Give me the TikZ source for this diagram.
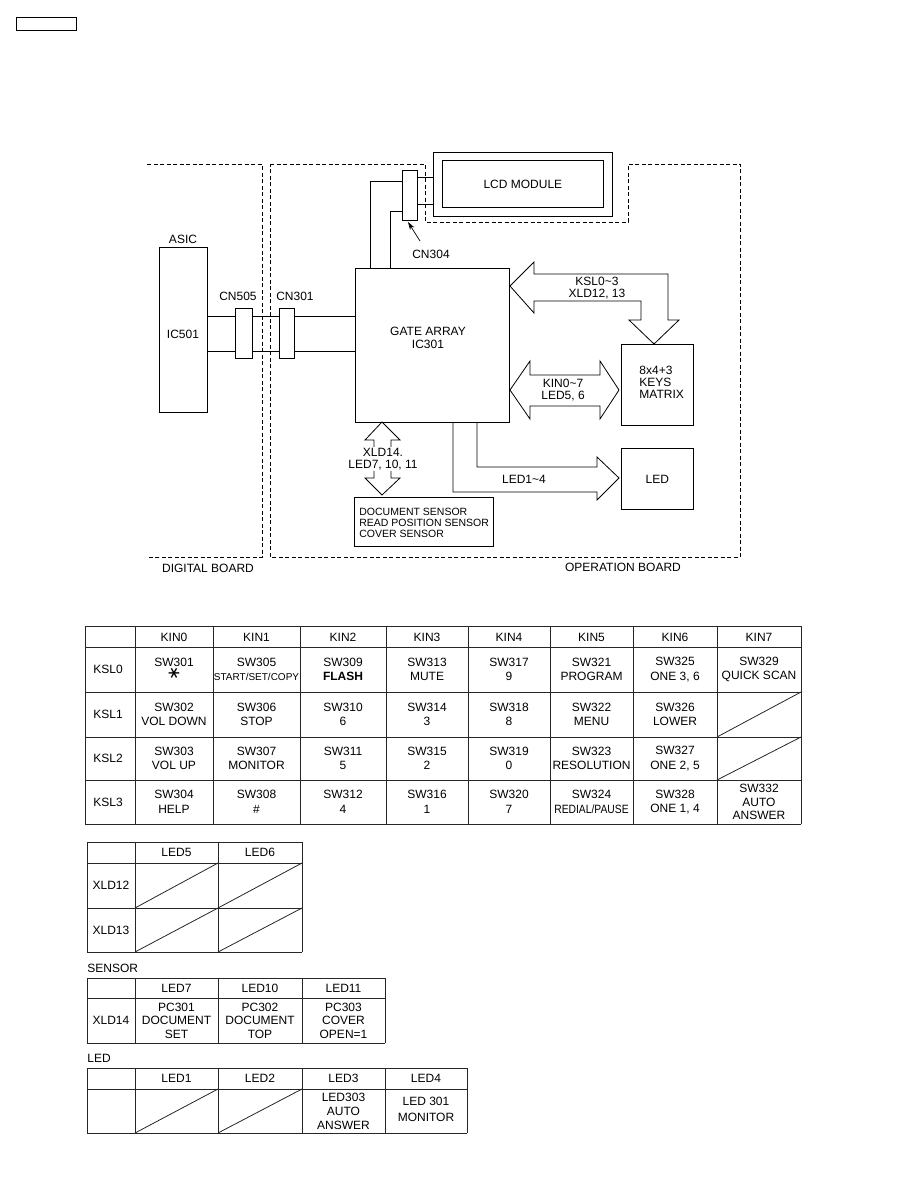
\documentclass[tikz,border=0pt]{standalone}
\usepackage{fontspec}
\setmainfont{Liberation Sans}
\newfontfamily\dejavu{DejaVu Sans}
\usetikzlibrary{arrows.meta}
\newcommand{\tcell}[4]{\node[cell] (#1) at (#2,#3) {#4};}
\begin{document}
\begin{tikzpicture}[x=1pt,y=-1pt, line width=0.8pt,
 box/.style={draw, inner sep=0pt, anchor=north west},
 lbl/.style={inner sep=0pt, font=\fontsize{12}{14}\selectfont, align=center},
 sml/.style={inner sep=0pt, font=\fontsize{10.5}{13}\selectfont, align=left, anchor=west},
 bd/.style={dash pattern=on 4pt off 2.5pt, line width=0.7pt},
 grid/.style={line width=0.8pt, black!85},
 cell/.style={inner sep=0pt, font=\fontsize{12}{14.5}\selectfont, align=center},
 bigarrow/.style={line width=0.8pt, line join=miter}
]
\useasboundingbox (0,0) rectangle (918,1188);

% top-left tag
\node[box, minimum width=60pt, minimum height=13pt] (tag) at (16,17) {};

% board outlines
\draw[bd] (147,164) -- (262,164) -- (262,557) -- (147,557);
\draw[bd] (270,164) -- (425,164) -- (425,222) -- (628,222) -- (628,164) -- (740,164) -- (740,557) -- (270,557) -- cycle;
\node[lbl] (digital) at (208,568) {DIGITAL BOARD};
\node[lbl] (operation) at (623,567) {OPERATION BOARD};

% LCD module
\node[box, fill=white, minimum width=179pt, minimum height=64pt] (lcd) at (433,152) {};
\node[box, minimum width=161pt, minimum height=47pt] (lcdin) at (442,160) {};
\node[lbl] (lcdtxt) at (lcdin.center) {LCD MODULE};

% CN304
\node[box, fill=white, minimum width=15pt, minimum height=50pt] (cn304) at (402,170) {};
\draw (cn304.east |- 0,177) -- (lcd.west |- 0,177);
\draw (cn304.east |- 0,204) -- (lcd.west |- 0,204);

% ASIC
\node[box, minimum width=48pt, minimum height=165pt] (asic) at (159,247) {};
\node[lbl] (asiclbl) at (183,239) {ASIC};
\node[lbl] (ic501) at (183,334) {IC501};

% connectors
\node[box, minimum width=17pt, minimum height=50pt] (cn505) at (235,308) {};
\node[box, minimum width=15pt, minimum height=50pt] (cn301) at (279,308) {};
\node[lbl] (cn505lbl) at (238,296) {CN505};
\node[lbl] (cn301lbl) at (295,296) {CN301};

% gate array
\node[box, minimum width=154pt, minimum height=154pt] (ga) at (355,268) {};
\node[lbl] (gatxt) at (428,338) {GATE ARRAY\\[-1.5pt]IC301};

% lines ASIC <-> gate array
\foreach \yy in {316,351} {
  \draw (asic.east |- 0,\yy) -- (cn505.west |- 0,\yy);
  \draw (cn505.east |- 0,\yy) -- (cn301.west |- 0,\yy);
  \draw (cn301.east |- 0,\yy) -- (ga.west |- 0,\yy);
}

% gate array <-> CN304
\draw (cn304.west |- 0,181) -| (370,0 |- ga.north);
\draw (cn304.west |- 0,211) -| (390,0 |- ga.north);
\node[lbl] (cn304lbl) at (431,254) {CN304};
\coordinate (cntail) at (420,241);
\draw[-{Stealth[length=8pt,width=5pt]}, line width=0.7pt] (cntail) -- (408,222);

% keys matrix and LED boxes
\node[box, minimum width=72pt, minimum height=81pt] (keys) at (621,344) {};
\node[lbl, anchor=west, align=left] (keystxt) at (639,382) {8x4+3\\[-2pt]KEYS\\[-2pt]MATRIX};
\node[box, minimum width=72pt, minimum height=61pt] (ledbox) at (621,448) {};
\node[lbl] (ledtxt) at (ledbox.center) {LED};

% sensor box
\node[box, minimum width=139pt, minimum height=49pt] (sensor) at (354,497) {};
\node[sml] (sensortxt) at (359,523) {DOCUMENT SENSOR\\[-2.2pt]READ POSITION SENSOR\\[-2.2pt]COVER SENSOR};

% KSL arrow
\draw[bigarrow] (510,286) -- (534,262) -- (534,274) -- (668,274) -- (668,320) -- (679,320) -- (654,344)
  -- (629,320) -- (641,320) -- (641,301) -- (534,301) -- (534,313) -- cycle;
\node[lbl] (ksllbl) at (597,288) {KSL0\textasciitilde 3\\[-2pt]XLD12, 13};

% KIN arrow
\draw[bigarrow] (510,390) -- (530,361) -- (530,375) -- (600,375) -- (600,361) -- (619,390)
  -- (600,419) -- (600,406) -- (530,406) -- (530,419) -- cycle;
\node[lbl] (kinlbl) at (563,390) {KIN0\textasciitilde 7\\[-2pt]LED5, 6};

% LED1~4 arrow
\draw[bigarrow] (477,0 |- ga.south) -- (477,467) -- (597,467) -- (597,457) -- (619,478)
  -- (597,500) -- (597,492) -- (453,492) -- (453,0 |- ga.south);
\node[lbl] (led14lbl) at (524,479) {LED1\textasciitilde 4};

% XLD14 arrow
\draw[bigarrow] (382,422) -- (400,440) -- (391,440) -- (391,478) -- (400,478) -- (382,495)
  -- (365,478) -- (374,478) -- (374,440) -- (365,440) -- cycle;
\node[lbl, fill=white, inner sep=1pt] (xldlbl) at (383,459) {XLD14.\\[-2pt]LED7, 10, 11};

% ===== main key table =====
\foreach \x in {85,135,213,300,386,468,550,633,717,801} \draw[grid] (\x,626) -- (\x,824);
\foreach \y in {626,647,692,737,780,824} \draw[grid] (85,\y) -- (801,\y);
\draw[grid] (717,737) -- (801,692);
\draw[grid] (717,780) -- (801,737);

\tcell{h0}{174}{637}{KIN0}
\tcell{h1}{256.5}{637}{KIN1}
\tcell{h2}{343}{637}{KIN2}
\tcell{h3}{427}{637}{KIN3}
\tcell{h4}{509}{637}{KIN4}
\tcell{h5}{591.5}{637}{KIN5}
\tcell{h6}{675}{637}{KIN6}
\tcell{h7}{759}{637}{KIN7}

\tcell{r0}{108}{669.5}{KSL0}
\tcell{r1}{108}{714.5}{KSL1}
\tcell{r2}{108}{758.5}{KSL2}
\tcell{r3}{108}{802}{KSL3}

\tcell{c00}{174}{669.5}{SW301\\\rotatebox{90}{\dejavu\fontsize{17}{14.5}\selectfont ∗}}
\tcell{c01}{256.5}{669.5}{SW305\\{\fontsize{10}{14.5}\selectfont START/SET/COPY}}
\tcell{c02}{343}{669.5}{SW309\\\textbf{FLASH}}
\tcell{c03}{427}{669.5}{SW313\\MUTE}
\tcell{c04}{509}{669.5}{SW317\\9}
\tcell{c05}{591.5}{669.5}{SW321\\PROGRAM}
\tcell{c06}{675}{669.5}{SW325\\ONE 3, 6}
\tcell{c07}{759}{669.5}{SW329\\QUICK SCAN}

\tcell{c10}{174}{714.5}{SW302\\VOL DOWN}
\tcell{c11}{256.5}{714.5}{SW306\\STOP}
\tcell{c12}{343}{714.5}{SW310\\6}
\tcell{c13}{427}{714.5}{SW314\\3}
\tcell{c14}{509}{714.5}{SW318\\8}
\tcell{c15}{591.5}{714.5}{SW322\\MENU}
\tcell{c16}{675}{714.5}{SW326\\LOWER}

\tcell{c20}{174}{758.5}{SW303\\VOL UP}
\tcell{c21}{256.5}{758.5}{SW307\\MONITOR}
\tcell{c22}{343}{758.5}{SW311\\5}
\tcell{c23}{427}{758.5}{SW315\\2}
\tcell{c24}{509}{758.5}{SW319\\0}
\tcell{c25}{591.5}{758.5}{SW323\\RESOLUTION}
\tcell{c26}{675}{758.5}{SW327\\ONE 2, 5}

\tcell{c30}{174}{802}{SW304\\HELP}
\tcell{c31}{256.5}{802}{SW308\\\#}
\tcell{c32}{343}{802}{SW312\\4}
\tcell{c33}{427}{802}{SW316\\1}
\tcell{c34}{509}{802}{SW320\\7}
\tcell{c35}{591.5}{802}{SW324\\\scalebox{0.86}[1]{REDIAL/PAUSE}}
\tcell{c36}{675}{802}{SW328\\ONE 1, 4}
\tcell{c37}{759}{802}{SW332\\[-1pt]AUTO\\[-1pt]ANSWER}

% ===== LED5/6 table =====
\foreach \x in {87,135,218,302} \draw[grid] (\x,842) -- (\x,952);
\foreach \y in {842,863,908,952} \draw[grid] (87,\y) -- (302,\y);
\draw[grid] (135,908) -- (218,863);
\draw[grid] (218,908) -- (302,863);
\draw[grid] (135,952) -- (218,908);
\draw[grid] (218,952) -- (302,908);
\tcell{la1}{176.5}{852.5}{LED5}
\tcell{la2}{260}{852.5}{LED6}
\tcell{lr1}{111}{885.5}{XLD12}
\tcell{lr2}{111}{930}{XLD13}

% ===== SENSOR table =====
\node[cell, anchor=west] (sensorttl) at (87,968) {SENSOR};
\foreach \x in {87,135,218,302,385} \draw[grid] (\x,978) -- (\x,1043);
\foreach \y in {978,998,1043} \draw[grid] (87,\y) -- (385,\y);
\tcell{sh1}{176.5}{988}{LED7}
\tcell{sh2}{260}{988}{LED10}
\tcell{sh3}{343.5}{988}{LED11}
\tcell{sr}{111}{1020.5}{XLD14}
\tcell{s1}{176.5}{1020.5}{PC301\\[-1pt]DOCUMENT\\[-1pt]SET}
\tcell{s2}{260}{1020.5}{PC302\\[-1pt]DOCUMENT\\[-1pt]TOP}
\tcell{s3}{343.5}{1020.5}{PC303\\[-1pt]COVER\\[-1pt]OPEN=1}

% ===== LED table =====
\node[cell, anchor=west] (ledttl) at (87,1058) {LED};
\foreach \x in {87,135,218,302,385,467} \draw[grid] (\x,1068) -- (\x,1133);
\foreach \y in {1068,1089,1133} \draw[grid] (87,\y) -- (467,\y);
\draw[grid] (135,1133) -- (218,1089);
\draw[grid] (218,1133) -- (302,1089);
\tcell{eh1}{176.5}{1078.5}{LED1}
\tcell{eh2}{260}{1078.5}{LED2}
\tcell{eh3}{343.5}{1078.5}{LED3}
\tcell{eh4}{426}{1078.5}{LED4}
\tcell{e3}{343.5}{1111}{LED303\\[-0.5pt]AUTO\\[-0.5pt]ANSWER}
\tcell{e4}{426}{1109.5}{LED 301\\[1.5pt]MONITOR}
\end{tikzpicture}
\end{document}
